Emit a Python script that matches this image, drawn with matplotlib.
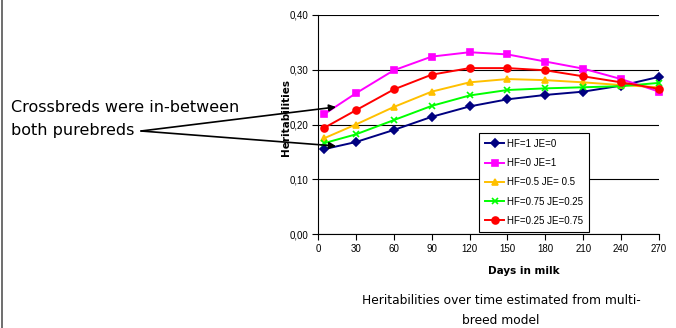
import matplotlib
matplotlib.use("Agg")
import matplotlib.pyplot as plt
from matplotlib.lines import Line2D
from matplotlib.ticker import FuncFormatter

# Days in milk at which heritabilities were estimated
days = [5, 30, 60, 90, 120, 150, 180, 210, 240, 270]

# Heritabilities per breed composition
h_hf1_je0 = [0.155, 0.168, 0.190, 0.214, 0.233, 0.246, 0.254, 0.260, 0.271, 0.287]
h_hf0_je1 = [0.219, 0.257, 0.299, 0.324, 0.332, 0.328, 0.315, 0.302, 0.283, 0.260]
h_hf05_je05 = [0.175, 0.200, 0.232, 0.260, 0.277, 0.283, 0.281, 0.277, 0.272, 0.268]
h_hf075_je025 = [0.166, 0.182, 0.208, 0.234, 0.253, 0.263, 0.266, 0.268, 0.270, 0.276]
h_hf025_je075 = [0.194, 0.226, 0.264, 0.291, 0.303, 0.303, 0.299, 0.288, 0.277, 0.265]

labels = ["HF=1 JE=0", "HF=0 JE=1", "HF=0.5 JE= 0.5", "HF=0.75 JE=0.25", "HF=0.25 JE=0.75"]
series = [h_hf1_je0, h_hf0_je1, h_hf05_je05, h_hf075_je025, h_hf025_je075]
colors = ["#000080", "#FF00FF", "#FFC000", "#00FF00", "#FF0000"]
markers = ["D", "s", "^", "x", "o"]
msizes = [4, 5, 5, 5, 5]

W, H = 676, 328
fig = plt.figure(figsize=(W / 100, H / 100), dpi=100)
ax = fig.add_axes([318 / W, 1 - 234 / H, (659 - 318) / W, (234 - 15) / H])

for vals, lab, c, m, ms in zip(series, labels, colors, markers, msizes):
    ax.plot(days, vals, color=c, marker=m, markersize=ms, lw=1.4,
            markeredgewidth=1.2, label=lab, clip_on=False)

ax.set_xlim(0, 270)
ax.set_ylim(0, 0.40)
ax.set_xticks(range(0, 271, 30))
ax.set_yticks([0, 0.1, 0.2, 0.3, 0.4])
ax.yaxis.set_major_formatter(FuncFormatter(lambda v, p: f"{v:.2f}".replace(".", ",")))
ax.grid(axis="y", color="black", lw=0.8)
ax.set_axisbelow(True)
for s in ["top", "right"]:
    ax.spines[s].set_visible(False)
ax.tick_params(direction="out", length=4, width=0.8, labelsize=7, pad=3)
for lbl in ax.get_xticklabels() + ax.get_yticklabels():
    lbl.set_family("Liberation Sans")

fig.text(524 / W, 1 - 271 / H, "Days in milk", ha="center", va="center",
         fontsize=7.5, fontweight="bold")
fig.text(286 / W, 1 - 118 / H, "Heritabilities", ha="center", va="center",
         rotation=90, fontsize=7.5, fontweight="bold")

leg = ax.legend(loc="upper left", bbox_to_anchor=(479 / W, 1 - 133 / H),
                bbox_transform=fig.transFigure, borderaxespad=0,
                prop={"family": "Liberation Sans", "size": 7},
                handlelength=2.0, handletextpad=0.3, labelspacing=0.95,
                borderpad=0.6, fancybox=False, framealpha=1)
leg.get_frame().set_edgecolor("black")
leg.get_frame().set_linewidth(0.8)

# Annotation with arrows
fig.text(11 / W, 1 - 107 / H, "Crossbreds were in-between", fontsize=11.5,
         ha="left", va="center")
fig.text(11 / W, 1 - 130 / H, "both purebreds", fontsize=11.5,
         ha="left", va="center")
for tip in [(336, 107), (336, 146)]:
    fig.add_artist(plt.Annotation(
        "", xy=(tip[0] / W, 1 - tip[1] / H), xytext=(141 / W, 1 - 131 / H),
        xycoords="figure fraction", textcoords="figure fraction",
        arrowprops=dict(arrowstyle="-|>", color="black", lw=1.2,
                        mutation_scale=10, shrinkA=0, shrinkB=0)))

fig.text(501 / W, 1 - 301 / H, "Heritabilities over time estimated from multi-",
         fontsize=8.8, ha="center", va="center")
fig.text(501 / W, 1 - 320 / H, "breed model", fontsize=8.8, ha="center", va="center")

# left edge frame line
fig.add_artist(Line2D([2 / W, 2 / W], [0, 1], color="#555555", lw=1.2,
                      transform=fig.transFigure))

fig.savefig("out.png", dpi=100)
